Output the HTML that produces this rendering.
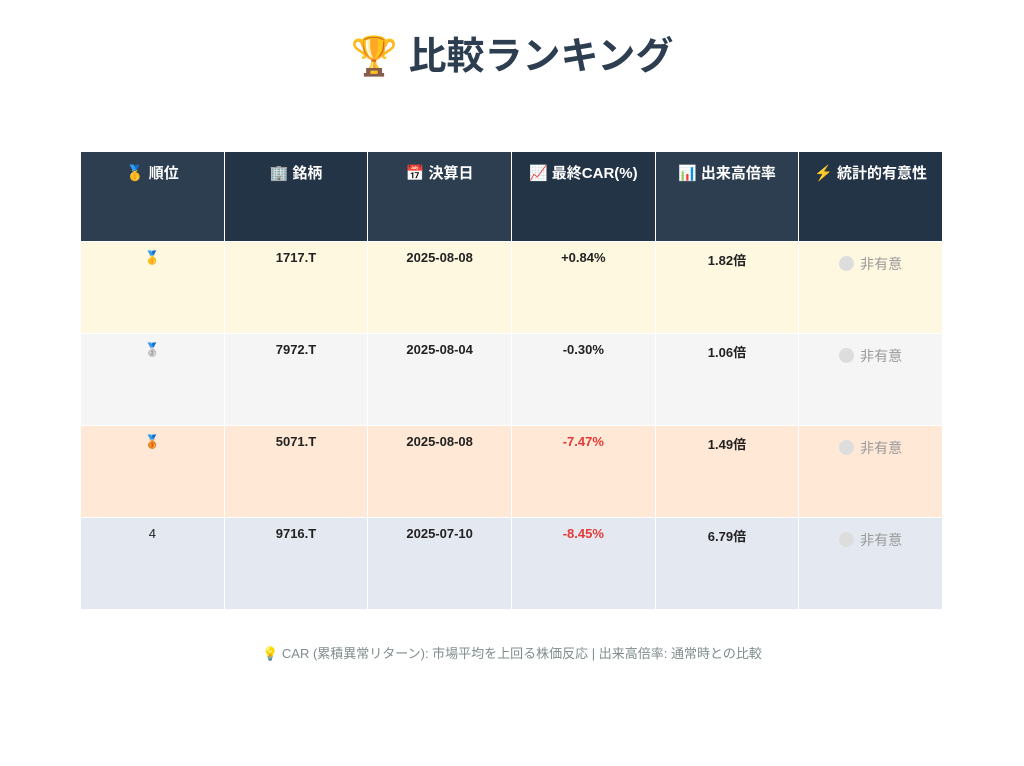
<!DOCTYPE html>
<html><head><meta charset="utf-8"><style>
body{margin:0;width:1024px;height:766px;background:#fff;font-family:"Liberation Sans","Noto Sans CJK JP",sans-serif;position:relative;overflow:hidden}
h1{position:absolute;top:30px;left:0;width:1024px;text-align:center;margin:0;font-size:38px;color:#2c3e50;font-weight:bold;line-height:54px}
table{position:absolute;left:80px;top:151px;width:863px;border-collapse:collapse;table-layout:fixed}
td,th{border:1px solid #fff;text-align:center;vertical-align:top;font-size:13px;font-weight:bold;color:#222;padding:0;padding-top:8px}
th{height:81px;color:#fff;font-size:15px;padding-top:10px;background:#2c3e50;box-sizing:border-box;height:90px}
th:nth-child(even){background:#243447}
td{height:92px;box-sizing:border-box}
.r1 td{background:#fff8e1}.r2 td{background:#f5f5f5}.r3 td{background:#ffe9d6}.r4 td{background:#e4e9f1}
.neg{color:#e53935}
.ns{color:#999;font-weight:normal;font-size:14px;padding-top:12px}
.dot{display:inline-block;width:15px;height:15px;border-radius:50%;background:#ddd;vertical-align:-2px;margin-right:6px}
.f{position:absolute;top:643px;left:0;width:1024px;text-align:center;font-size:13px;color:#7f8c8d}
</style></head><body>
<h1>🏆 比較ランキング</h1>
<table>
<tr><th>🥇 順位</th><th>🏢 銘柄</th><th>📅 決算日</th><th>📈 最終CAR(%)</th><th>📊 出来高倍率</th><th>⚡ 統計的有意性</th></tr>
<tr class="r1"><td>🥇</td><td>1717.T</td><td>2025-08-08</td><td>+0.84%</td><td>1.82倍</td><td class="ns"><span class="dot"></span>非有意</td></tr>
<tr class="r2"><td>🥈</td><td>7972.T</td><td>2025-08-04</td><td>-0.30%</td><td>1.06倍</td><td class="ns"><span class="dot"></span>非有意</td></tr>
<tr class="r3"><td>🥉</td><td>5071.T</td><td>2025-08-08</td><td class="neg">-7.47%</td><td>1.49倍</td><td class="ns"><span class="dot"></span>非有意</td></tr>
<tr class="r4"><td style="font-weight:normal">4</td><td>9716.T</td><td>2025-07-10</td><td class="neg">-8.45%</td><td>6.79倍</td><td class="ns"><span class="dot"></span>非有意</td></tr>
</table>
<div class="f">💡 CAR (累積異常リターン): 市場平均を上回る株価反応 | 出来高倍率: 通常時との比較</div>
</body></html>
